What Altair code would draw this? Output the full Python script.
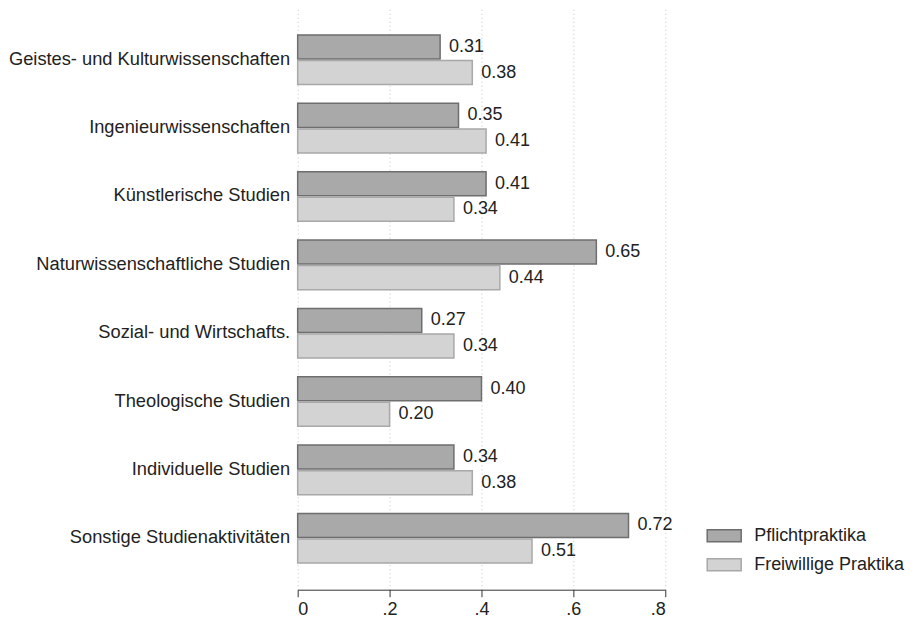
import altair as alt
import pandas as pd

categories = [
    "Geistes- und Kulturwissenschaften",
    "Ingenieurwissenschaften",
    "Künstlerische Studien",
    "Naturwissenschaftliche Studien",
    "Sozial- und Wirtschafts.",
    "Theologische Studien",
    "Individuelle Studien",
    "Sonstige Studienaktivitäten",
]
series = ["Pflichtpraktika", "Freiwillige Praktika"]
pflicht = [0.31, 0.35, 0.41, 0.65, 0.27, 0.40, 0.34, 0.72]
freiwillig = [0.38, 0.41, 0.34, 0.44, 0.34, 0.20, 0.38, 0.51]
x_ticks = [0, 0.2, 0.4, 0.6, 0.8]

rows = []
for c, p, f in zip(categories, pflicht, freiwillig):
    rows.append({"cat": c, "series": series[0], "value": p})
    rows.append({"cat": c, "series": series[1], "value": f})
df = pd.DataFrame(rows)

FONT = "Liberation Sans"
FS = 18

y_enc = alt.Y("cat:N", sort=categories, title=None,
              scale=alt.Scale(paddingInner=0.274, paddingOuter=0.39),
              axis=alt.Axis(domain=False, ticks=False, labelPadding=8,
                            labelFontSize=18.3, labelColor="#222", labelFont=FONT,
                            labelLimit=400))
yoff = alt.YOffset("series:N", sort=series, scale=alt.Scale(paddingInner=0.06))

base = alt.Chart(df)

bars = base.mark_bar(strokeWidth=1.5).encode(
    x=alt.X("value:Q", title=None,
            scale=alt.Scale(domain=[0, 0.8], nice=False),
            axis=alt.Axis(values=x_ticks, grid=True, gridDash=[1, 3],
                          gridColor="#c4c4c4", gridWidth=1,
                          domainColor="#333", tickColor="#333", tickSize=7,
                          labelFontSize=FS, labelColor="#222", labelFont=FONT,
                          labelPadding=4,
                          labelExpr="datum.value == 0 ? '0' : replace(format(datum.value, '.1f'), '0.', '.')")),
    y=y_enc,
    yOffset=yoff,
    fill=alt.Fill("series:N", sort=series, title=None,
                  scale=alt.Scale(domain=series, range=["#a9a9a9", "#d3d3d3"]),
                  legend=alt.Legend(orient="none", legendX=418, legendY=519,
                                    symbolType="M-2.43,-0.86H2.43V0.86H-2.43Z", symbolSize=196,
                                    symbolStrokeWidth=1.5, labelOffset=21,
                                    labelFontSize=FS, labelColor="#222", labelFont=FONT,
                                    rowPadding=9, padding=0)),
    stroke=alt.Stroke("series:N", sort=series, title=None,
                      scale=alt.Scale(domain=series, range=["#6e6e6e", "#a8a8a8"])),
)

labels = base.mark_text(align="left", baseline="middle", dx=9, fontSize=FS,
                        font=FONT, color="#222").encode(
    x="value:Q",
    y=alt.Y("cat:N", sort=categories),
    yOffset=yoff,
    text=alt.Text("value:Q", format=".2f"),
)

chart = alt.layer(bars, labels).properties(
    width=368, height=582, padding=0
).configure(font=FONT).configure_view(strokeWidth=0, stroke="transparent")

chart.save("out.html", embed_options={"renderer": "svg", "actions": False})
